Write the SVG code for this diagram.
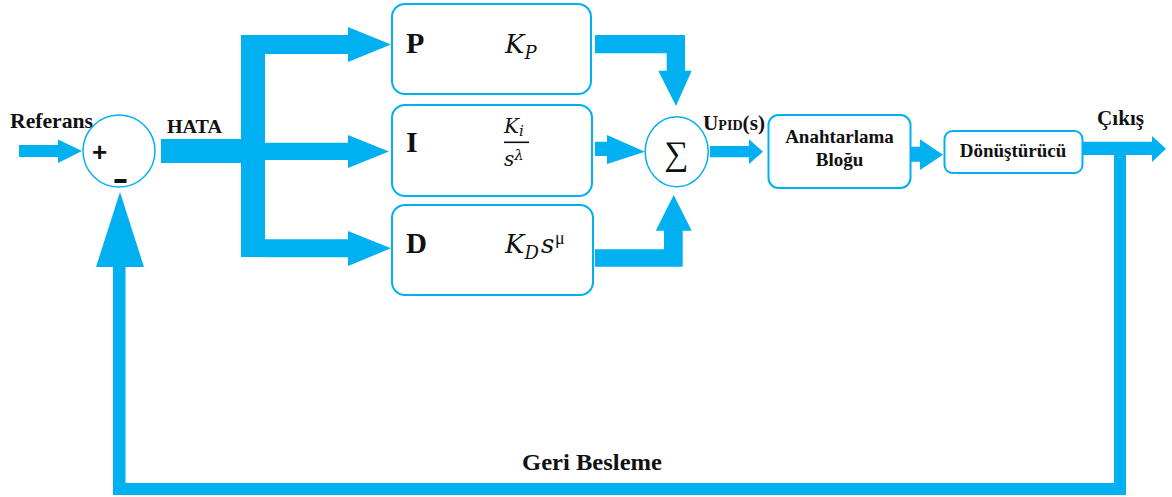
<svg xmlns="http://www.w3.org/2000/svg" width="1172" height="497" viewBox="0 0 1172 497">
<style>
.flow{fill:#00B0F0;stroke:none}
.box{fill:#fff;stroke:#00B0F0;stroke-width:2}
.circ{fill:#fff;stroke:#00B0F0;stroke-width:1.5}
.lbl{font-family:"Liberation Serif","Times New Roman",serif;font-weight:bold;fill:#111}
.math{font-family:"DejaVu Serif","Liberation Serif",serif;font-style:italic;fill:#111}
.up{font-family:"Liberation Serif","Times New Roman",serif;fill:#111}
.sign{font-family:"Liberation Sans",Arial,sans-serif;font-weight:bold;fill:#111}
</style>
<rect width="1172" height="497" fill="#fff"/>
<g id="connectors">
  <polygon class="flow" points="19,145 58,145 58,139.5 82,151 58,163 58,157 19,157"/>
  <rect class="flow" x="161" y="139" width="82" height="24"/>
  <rect class="flow" x="241" y="35" width="24" height="222"/>
  <polygon class="flow" points="265,35 348,35 348,27 391,44.5 348,62 348,54 265,54"/>
  <polygon class="flow" points="265,142.7 348,142.7 348,135 389,151.5 348,168 348,160 265,160"/>
  <polygon class="flow" points="265,239.3 348,239.3 348,231 391,248.3 348,266 348,257.3 265,257.3"/>
  <polygon class="flow" points="595,35 685,35 685,70.7 691.7,70.7 676,106 658.3,70.7 666.7,70.7 666.7,53.3 595,53.3"/>
  <polygon class="flow" points="595,141.7 607,141.7 607,135 645,151.7 607,164 607,156 595,156"/>
  <polygon class="flow" points="595,249.3 664,249.3 664,230.7 655.7,230.7 673.7,195 691.7,230.7 682.7,230.7 682.7,266.7 595,266.7"/>
  <polygon class="flow" points="710,146 749,146 749,139.3 763,151.7 749,164 749,157.3 710,157.3"/>
  <polygon class="flow" points="911,146.7 920,146.7 920,139.3 943,154.7 920,170 920,161.7 911,161.7"/>
  <polygon class="flow" points="1083,141.7 1152,141.7 1152,136 1166,148.7 1152,162 1152,155 1083,155"/>
  <polygon class="flow" points="1114,155 1126,155 1126,495 113,495 113,267 96,267 120,192 144,267 125.5,267 125.5,483 1114,483"/>
</g>
<g id="labels">
  <text class="lbl" x="10" y="128" font-size="21" textLength="83" lengthAdjust="spacingAndGlyphs">Referans</text>
  <text class="lbl" x="167" y="133" font-size="18" textLength="55" lengthAdjust="spacingAndGlyphs">HATA</text>
  <text class="lbl" x="703" y="130" font-size="21" textLength="62" lengthAdjust="spacingAndGlyphs">U<tspan font-size="14">PID</tspan>(s)</text>
  <text class="lbl" x="1097" y="125" font-size="20" textLength="47" lengthAdjust="spacingAndGlyphs">Çıkış</text>
  <text class="lbl" x="522" y="470" font-size="24" textLength="140" lengthAdjust="spacingAndGlyphs">Geri Besleme</text>
</g>
<g id="sum1">
  <circle class="circ" cx="119" cy="151" r="36"/>
  <text class="sign" x="99.5" y="161" font-size="26" text-anchor="middle">+</text>
  <rect x="114.5" y="179" width="12" height="4" fill="#111"/>
</g>
<g id="P">
  <rect class="box" x="392" y="4" width="199" height="90" rx="13"/>
  <text class="lbl" x="406" y="53" font-size="30">P</text>
  <text class="math" x="505" y="53" font-size="26">K<tspan font-size="18" dy="6">P</tspan></text>
</g>
<g id="I">
  <rect class="box" x="392" y="105" width="200" height="91" rx="13"/>
  <text class="lbl" x="406" y="152" font-size="30">I</text>
  <text class="math" x="504" y="133" font-size="20">K<tspan font-size="15" dy="3">i</tspan></text>
  <rect x="504" y="141.5" width="25" height="1.6" fill="#111"/>
  <text class="math" x="504" y="166" font-size="20">s<tspan font-size="15" dy="-6">λ</tspan></text>
</g>
<g id="D">
  <rect class="box" x="392" y="205" width="201" height="90" rx="13"/>
  <text class="lbl" x="406" y="253" font-size="29">D</text>
  <text class="math" x="505" y="253" font-size="26">K<tspan font-size="18" dy="6">D</tspan><tspan dy="-6" dx="2">s</tspan></text>
  <text class="up" x="555" y="244" font-size="18">μ</text>
</g>
<g id="sum2">
  <ellipse class="circ" cx="676.7" cy="151.7" rx="31.5" ry="35"/>
  <text class="up" x="676" y="165" font-size="34" text-anchor="middle">∑</text>
</g>
<g id="anahtarlama">
  <rect class="box" x="768.5" y="115" width="142" height="73" rx="10"/>
  <text class="lbl" x="839.5" y="143" font-size="19" text-anchor="middle">Anahtarlama</text>
  <text class="lbl" x="839.5" y="166" font-size="19" text-anchor="middle">Bloğu</text>
</g>
<g id="donusturucu">
  <rect class="box" x="944.5" y="131" width="138" height="42" rx="8"/>
  <text class="lbl" x="1013" y="157" font-size="19" text-anchor="middle">Dönüştürücü</text>
</g>
</svg>
